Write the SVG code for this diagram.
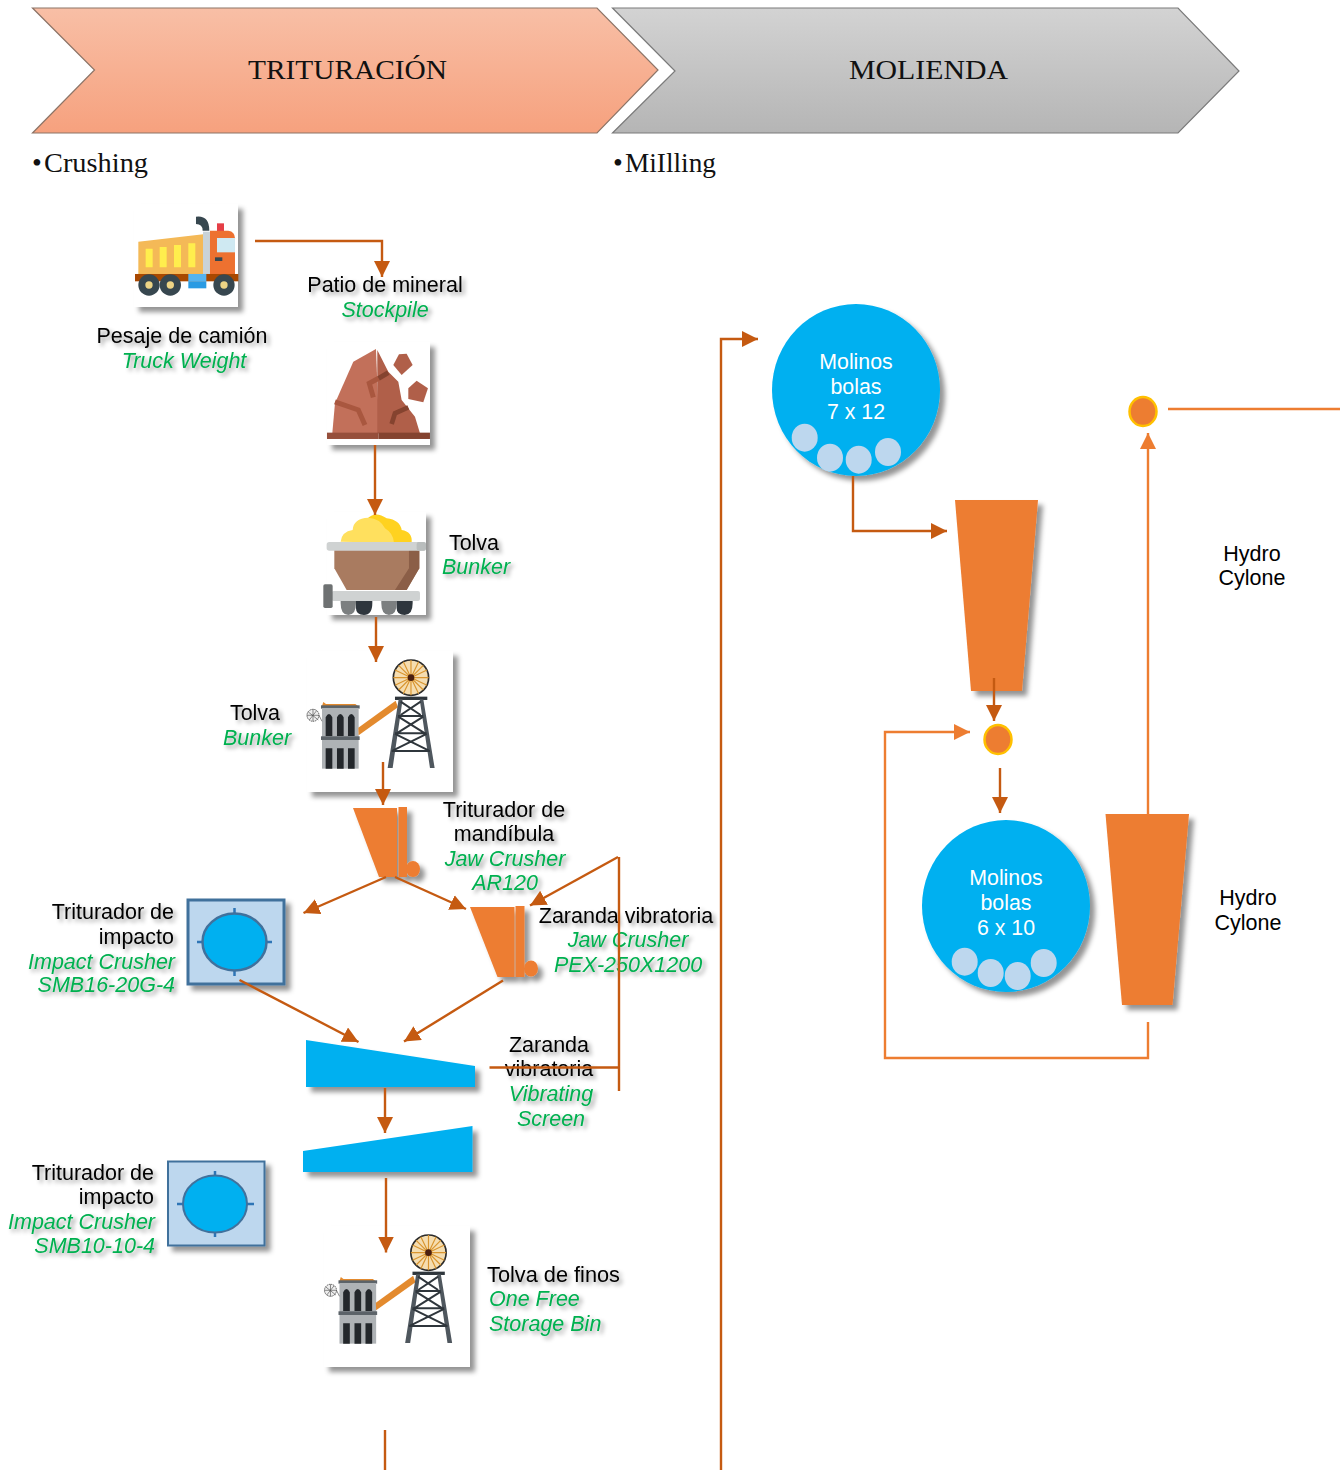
<svg xmlns="http://www.w3.org/2000/svg" width="1340" height="1470" viewBox="0 0 1340 1470">
<style>
text{font-family:"Liberation Sans",Arial,sans-serif;font-size:21.5px;fill:#000}
.g{font-style:italic;fill:#00B050}
.w{fill:#fff;text-anchor:middle;font-size:21.33px}
.m{text-anchor:middle}
.e{text-anchor:end}
.s{font-family:"Liberation Serif","Times New Roman",serif;font-size:28px;fill:#111}
.ts{filter:url(#ts)}
.sh{filter:url(#sh)}
.blue{fill:#00B0F0}
.org{fill:#ED7D31}
.ball{fill:#BDD7EE}
.tile{fill:#fff}
.imp{fill:#BDD7EE;stroke:#41719C;stroke-width:3}
.c1{fill:none;stroke:#C55A11;stroke-width:2.400}
.c2{fill:none;stroke:#ED7D31;stroke-width:2.400}
.mk1{marker-end:url(#a1)}
.mk2{marker-end:url(#a2)}
</style>
<defs>
<linearGradient id="gr1" x1="0" y1="0" x2="0" y2="1"><stop offset="0" stop-color="#F8BFA6"/><stop offset="1" stop-color="#F6A17E"/></linearGradient>
<linearGradient id="gr2" x1="0" y1="0" x2="0" y2="1"><stop offset="0" stop-color="#D3D3D3"/><stop offset="1" stop-color="#B5B5B5"/></linearGradient>
<filter id="sh" x="-30%" y="-30%" width="160%" height="160%"><feDropShadow dx="5" dy="5" stdDeviation="2.600" flood-color="#000" flood-opacity=".42"/></filter>
<filter id="ts" x="-20%" y="-40%" width="140%" height="190%"><feDropShadow dx="3" dy="3" stdDeviation="2.200" flood-color="#000" flood-opacity=".4"/></filter>
<marker id="a1" markerUnits="userSpaceOnUse" viewBox="0 0 16 16" refX="16" refY="8" markerWidth="16" markerHeight="16" orient="auto"><path d="M0 0L16 8L0 16Z" fill="#C55A11"/></marker>
<marker id="a2" markerUnits="userSpaceOnUse" viewBox="0 0 16 16" refX="16" refY="8" markerWidth="16" markerHeight="16" orient="auto"><path d="M0 0L16 8L0 16Z" fill="#ED7D31"/></marker>
<g id="mine">
<path d="M340 606L348 612H436L444 618H336Z" fill="#E38A2E"/>
<rect x="333" y="616" width="116" height="10" fill="#5B6268"/>
<rect x="336" y="624" width="110" height="182" fill="#AEB2B5"/>
<path d="M347 708V652Q357 632 367 652V708ZM381 708V652Q391 632 401 652V708ZM414 708V652Q424 632 434 652V708Z" fill="#23272B"/>
<rect x="333" y="709" width="116" height="11" fill="#5B6268"/>
<path d="M347 806V745H367V806ZM381 806V745H401V806ZM414 806V745H434V806Z" fill="#23272B"/>
<circle cx="309" cy="646" r="18" fill="#eee" stroke="#555" stroke-width="3" stroke-dasharray="4 2"/>
<path d="M295 636L325 660M320 632L298 660M309 628V664M291 646H327L336 664" stroke="#555" stroke-width="2" fill="none"/>
<path d="M445 683L557 602L564 622L446 706Z" fill="#E38A2E"/>
<circle cx="603" cy="533" r="53" fill="#F5DDB0" stroke="#2B2B2B" stroke-width="5"/>
<path d="M603 480V586M550 533H656M566 496L640 570M640 496L566 570M580 485L626 581M626 485L580 581M555 510L651 556M555 556L651 510" stroke="#D9952F" stroke-width="3.500"/>
<circle cx="603" cy="533" r="10" fill="#4A1F10"/>
<rect x="555" y="590" width="97" height="10" fill="#2F363C"/>
<path d="M566 598L533 804H548L578 598ZM629 598L660 804H674L640 598Z" fill="#4F575E"/>
<path d="M572 605L632 645M632 605L572 645M564 648H640M565 650L645 700M640 650L560 700M555 700H650M555 702L657 752M650 702L548 752M545 753H660" stroke="#2F363C" stroke-width="6" fill="none"/>
</g>
</defs>

<g id="chevron-trituracion">
<path d="M32.500 8H597L658 70L597 133H32.500L94.500 70Z" fill="url(#gr1)" stroke="#8C7467" stroke-width="1.200"/>
<text class="s m" x="347.500" y="79" textLength="199" lengthAdjust="spacingAndGlyphs">TRITURACIÓN</text>
<text class="s" x="32" y="172">•</text>
<text class="s" x="44" y="172" textLength="104" lengthAdjust="spacingAndGlyphs">Crushing</text>
</g>
<g id="chevron-molienda">
<path d="M612.500 8H1178L1239 71L1178 133H612.500L675 71Z" fill="url(#gr2)" stroke="#7A7A7A" stroke-width="1.200"/>
<text class="s m" x="928.500" y="79" textLength="159" lengthAdjust="spacingAndGlyphs">MOLIENDA</text>
<text class="s" x="613" y="172">•</text>
<text class="s" x="625" y="172" textLength="91" lengthAdjust="spacingAndGlyphs">MiIlling</text>
</g>

<g id="truck">
<rect class="tile sh" x="134" y="204" width="104" height="103"/>
<g transform="translate(90 200) scale(.3333)">
<path d="M145 125L340 103V222H145Z" fill="#F4B957"/>
<path d="M167 146h21v56h-21zM209 141h21v61h-21zM252 135h21v67h-21zM295 130h21v72h-21z" fill="#FFEE4D"/>
<rect x="339" y="95" width="21" height="130" fill="#C9D3D8"/>
<path d="M318 50Q358 45 358 92H338Q338 72 318 72Z" fill="#37474F"/>
<rect x="381" y="70" width="21" height="23" fill="#E53E46"/>
<path d="M360 92H415Q435 95 435 115V222H360Z" fill="#ED7130"/>
<rect x="381" y="114" width="54" height="43" fill="#CFE9F2"/>
<rect x="375" y="172" width="22" height="11" fill="#37474F"/>
<rect x="135" y="222" width="310" height="22" fill="#A84800"/>
<rect x="295" y="222" width="54" height="22" fill="#55B4F0"/>
<rect x="295" y="244" width="54" height="21" fill="#2A9BE3"/>
<g fill="#37474F"><circle cx="177" cy="255" r="32"/><circle cx="241" cy="255" r="32"/><circle cx="402" cy="255" r="32"/></g>
<g fill="#EDD485"><circle cx="177" cy="255" r="11"/><circle cx="241" cy="255" r="11"/><circle cx="402" cy="255" r="11"/></g>
</g>
<g class="ts"><text class="m" x="182" y="343">Pesaje de camión</text>
<text class="m g" x="184" y="368">Truck Weight</text></g>
</g>

<g id="stockpile">
<rect class="tile sh" x="327" y="342" width="103" height="103"/>
<g transform="translate(90 200) scale(.3333)">
<path d="M735 610L790 485L858 447L868 700H727Z" fill="#C2705A"/>
<path d="M862 450L895 515L925 545L935 600L975 650L990 700H862Z" fill="#B05F49"/>
<path d="M735 606L805 630L825 675" stroke="#A9573F" stroke-width="15" fill="none"/>
<path d="M866 535L838 550L850 592" stroke="#A9573F" stroke-width="15" fill="none"/>
<path d="M866 535L895 518" stroke="#85432F" stroke-width="15" fill="none"/>
<path d="M955 622L915 640L905 672" stroke="#85432F" stroke-width="14" fill="none"/>
<path d="M927 463L950 461L968 495L935 525L910 495Z" fill="#B05F49"/>
<path d="M980 542L1014 565L1000 607L955 597L955 565Z" fill="#B05F49"/>
<rect x="711" y="698" width="155" height="19" fill="#964F3B"/>
<rect x="866" y="698" width="154" height="19" fill="#84432F"/>
</g>
<g class="ts"><text class="m" x="385" y="292">Patio de mineral</text>
<text class="m g" x="385" y="317">Stockpile</text></g>
</g>

<g id="bunker-1">
<rect class="tile sh" x="327" y="512" width="99" height="103"/>
<g transform="translate(210 500) scale(.3333)">
<path d="M430 125Q425 70 470 58Q495 30 530 55Q570 60 575 90Q608 95 605 128Z" fill="#FFD21F"/>
<path d="M392 125Q395 95 428 90Q430 55 475 53Q510 55 525 85Q550 100 552 128Z" fill="#FFE05E"/>
<path d="M373 150H628V205L590 270H410L373 205Z" fill="#A97B60"/>
<path d="M597 150H628V205L590 270H555L597 205Z" fill="#8B5E47"/>
<rect x="350" y="126" width="298" height="26" rx="8" fill="#CFD2D2"/>
<rect x="620" y="126" width="28" height="26" rx="6" fill="#B9BDBD"/>
<path d="M392 302H438V310Q438 345 415 345Q392 345 392 310ZM514 302H560V310Q560 345 537 345Q514 345 514 310Z" fill="#7C7F80"/>
<path d="M438 302H487V310Q487 345 462 345Q438 345 438 325ZM560 302H608V310Q608 345 584 345Q560 345 560 325Z" fill="#2F363D"/>
<rect x="365" y="273" width="265" height="30" rx="6" fill="#CFD2D2"/>
<rect x="340" y="253" width="28" height="71" rx="5" fill="#6E7172"/>
</g>
<g class="ts"><text class="m" x="474" y="550">Tolva</text>
<text class="m g" x="476" y="574">Bunker</text></g>
</g>

<g id="bunker-2">
<rect class="tile sh" x="307" y="651" width="146" height="141"/>
<use href="#mine" transform="translate(210 500) scale(.3333)"/>
<g class="ts"><text class="m" x="255" y="720">Tolva</text>
<text class="m g" x="257" y="745">Bunker</text></g>
</g>

<g id="jaw-crusher-1">
<g class="sh org">
<path d="M353 808H397V877H379Z"/><rect x="398.500" y="807" width="8.500" height="70"/><ellipse cx="413" cy="869" rx="7" ry="8"/>
</g>
<g class="ts"><text class="m" x="504" y="817">Triturador de</text>
<text class="m" x="504" y="841">mandíbula</text>
<text class="m g" x="505" y="866">Jaw Crusher</text>
<text class="m g" x="505" y="890">AR120</text></g>
</g>

<g id="jaw-crusher-2">
<g class="sh org">
<path d="M470 907H514.500V977H497.500Z"/><rect x="515.500" y="906" width="9" height="71"/><ellipse cx="531" cy="968.500" rx="7" ry="8"/>
</g>
<g class="ts"><text class="m" x="626" y="923">Zaranda vibratoria</text>
<text class="m g" x="628" y="947">Jaw Crusher</text>
<text class="m g" x="628" y="972">PEX-250X1200</text></g>
</g>

<g id="impact-crusher-1">
<rect class="imp sh" x="188" y="900" width="96" height="84"/>
<path d="M197 942H272M234.500 908V976" stroke="#2E75B6" stroke-width="2.500"/>
<ellipse cx="234.500" cy="942" rx="32" ry="28.500" class="blue" stroke="#41719C" stroke-width="2.500"/>
<g class="ts"><text class="e" x="174" y="919">Triturador de</text>
<text class="e" x="174" y="944">impacto</text>
<text class="e g" x="175" y="969">Impact Crusher</text>
<text class="e g" x="175" y="992">SMB16-20G-4</text></g>
</g>

<g id="screen-1">
<path class="blue sh" d="M306 1040L475 1066V1087H306Z"/>
<g class="ts"><text class="m" x="549" y="1052">Zaranda</text>
<text class="m" x="549" y="1076">vibratoria</text>
<text class="m g" x="551" y="1101">Vibrating</text>
<text class="m g" x="551" y="1126">Screen</text></g>
</g>

<g id="screen-2">
<path class="blue sh" d="M303 1151L472.500 1126V1172H303Z"/>
</g>

<g id="impact-crusher-2">
<rect class="imp sh" x="168" y="1161.500" width="96.500" height="84" style="stroke-width:2"/>
<path d="M177 1204H254M215 1171V1237" stroke="#2E75B6" stroke-width="2.500"/>
<ellipse cx="215" cy="1204" rx="32" ry="28.500" class="blue" stroke="#41719C" stroke-width="2"/>
<g class="ts"><text class="e" x="154" y="1180">Triturador de</text>
<text class="e" x="154" y="1204">impacto</text>
<text class="e g" x="155" y="1229">Impact Crusher</text>
<text class="e g" x="155" y="1253">SMB10-10-4</text></g>
</g>

<g id="fine-bin">
<rect class="tile sh" x="324" y="1226" width="146" height="141"/>
<use href="#mine" transform="translate(227.500 1075) scale(.3333)"/>
<g class="ts"><text x="487" y="1282" textLength="133" lengthAdjust="spacingAndGlyphs">Tolva de finos</text>
<text class="g" x="489" y="1306">One Free</text>
<text class="g" x="489" y="1331">Storage Bin</text></g>
</g>

<g id="mill-1">
<ellipse class="blue sh" cx="856" cy="390" rx="84" ry="86"/>
<g class="ball"><ellipse cx="804.700" cy="437.700" rx="13" ry="14"/><ellipse cx="830" cy="457.700" rx="13" ry="14"/><ellipse cx="858.700" cy="459.700" rx="13" ry="14"/><ellipse cx="888" cy="452" rx="13" ry="14"/></g>
<text class="w" x="856" y="369">Molinos</text><text class="w" x="856" y="394">bolas</text><text class="w" x="856" y="419">7 x 12</text>
</g>

<g id="hydrocyclone-1">
<path class="org sh" d="M955 500H1038L1022 691H971Z"/>
</g>
<g id="node-1"><ellipse class="org" cx="998" cy="739.500" rx="13.500" ry="14.500" stroke="#FFC000" stroke-width="2.500"/></g>

<g id="mill-2">
<ellipse class="blue sh" cx="1006" cy="906" rx="84" ry="86"/>
<g class="ball"><ellipse cx="964.700" cy="961.700" rx="13" ry="14"/><ellipse cx="990.700" cy="973" rx="13" ry="14"/><ellipse cx="1017.700" cy="976" rx="13" ry="14"/><ellipse cx="1043.700" cy="963" rx="13" ry="14"/></g>
<text class="w" x="1006" y="885">Molinos</text><text class="w" x="1006" y="910">bolas</text><text class="w" x="1006" y="935">6 x 10</text>
</g>

<g id="hydrocyclone-2">
<path class="org sh" d="M1105.500 814H1189L1172.500 1005H1122Z"/>
<text class="m" x="1248" y="905">Hydro</text><text class="m" x="1248" y="930">Cylone</text>
</g>
<g id="hydro-label-1"><text class="m" x="1252" y="561">Hydro</text><text class="m" x="1252" y="585">Cylone</text></g>
<g id="node-2"><ellipse class="org" cx="1143" cy="411.500" rx="13.500" ry="14.500" stroke="#FFC000" stroke-width="2.500"/></g>

<g id="connectors">
<path class="c1 mk1" d="M255 241H382V277"/>
<path class="c1 mk1" d="M375 445V515"/>
<path class="c1 mk1" d="M376 617V662"/>
<path class="c1 mk1" d="M383 762V805"/>
<path class="c1 mk1" d="M386 877L303.500 913"/>
<path class="c1 mk1" d="M395 877L466 909"/>
<path class="c1 mk1" d="M239.500 980L358.500 1042"/>
<path class="c1 mk1" d="M503 980.500L404 1041.500"/>
<path class="c1" d="M489.500 1067.500H619M619 857V1091"/>
<path class="c1 mk1" d="M618 857L530 905.500"/>
<path class="c1 mk1" d="M385 1088V1133"/>
<path class="c1 mk1" d="M386 1178V1252.500"/>
<path class="c1" d="M385 1430V1470"/>
<path class="c1 mk1" d="M721 1470V339H758"/>
<path class="c1 mk1" d="M853 476V531H947"/>
<path class="c1 mk1" d="M994 678V721"/>
<path class="c1 mk1" d="M1000 768V813"/>
<path class="c2 mk2" d="M1148 1022V1058H885V732H970"/>
<path class="c2 mk2" d="M1148 814V433"/>
<path class="c2" d="M1168 409H1340"/>
</g>
</svg>
